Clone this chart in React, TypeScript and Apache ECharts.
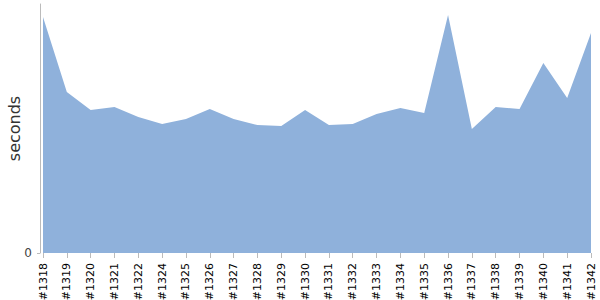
import React, { useEffect, useRef } from "react";
import * as echarts from "echarts";

const categories = ["#1318","#1319","#1320","#1321","#1322","#1324","#1325","#1326","#1327","#1328","#1329","#1330","#1331","#1332","#1333","#1334","#1335","#1336","#1337","#1338","#1339","#1340","#1341","#1342"];
const seconds = [236,161,143,146,136,129,134,144,134,128,127,143,128,129,139,145,140,238,124,146,144,190,155,220];
const yMax = 249;
const yTicks = [0];

export default function App() {
  const ref = useRef<HTMLDivElement>(null);
  useEffect(() => {
    const chart = echarts.init(ref.current!, undefined, { renderer: "svg" });
    chart.setOption({
      animation: false,
      grid: { left: 43, right: 9, top: 4, bottom: 47, containLabel: false, outerBoundsMode: "none" },
      xAxis: {
        type: "category",
        data: categories,
        boundaryGap: false,
        axisLine: { show: false },
        axisTick: { alignWithLabel: true, length: 5, lineStyle: { color: "#bbb" } },
        axisLabel: { rotate: 90, interval: 0, color: "#000", fontSize: 11, fontFamily: "DejaVu Sans", margin: 10 },
      },
      yAxis: {
        type: "value",
        min: 0,
        max: yMax,
        offset: 3,
        name: "seconds",
        nameLocation: "middle",
        nameGap: 18,
        nameMoveOverlap: false,
        nameTextStyle: { fontSize: 16, color: "#333", fontFamily: "DejaVu Sans" },
        splitLine: { show: false },
        axisLine: { show: true, lineStyle: { color: "#bbb" } },
        axisTick: { show: true, length: 3, customValues: yTicks, lineStyle: { color: "#bbb" } },
        axisLabel: {
          color: "#444",
          fontSize: 12,
          fontFamily: "DejaVu Sans",
          margin: 8,
          customValues: yTicks,
        },
      },
      series: [
        {
          type: "line",
          data: seconds,
          symbol: "none",
          lineStyle: { width: 0, color: "#8fb1db" },
          areaStyle: { color: "#8fb1db", opacity: 1 },
          itemStyle: { color: "#8fb1db" },
        },
      ],
    });
    return () => chart.dispose();
  }, []);
  return <div ref={ref} style={{ width: 600, height: 300, position: "absolute", left: 0, top: 0 }} />;
}
